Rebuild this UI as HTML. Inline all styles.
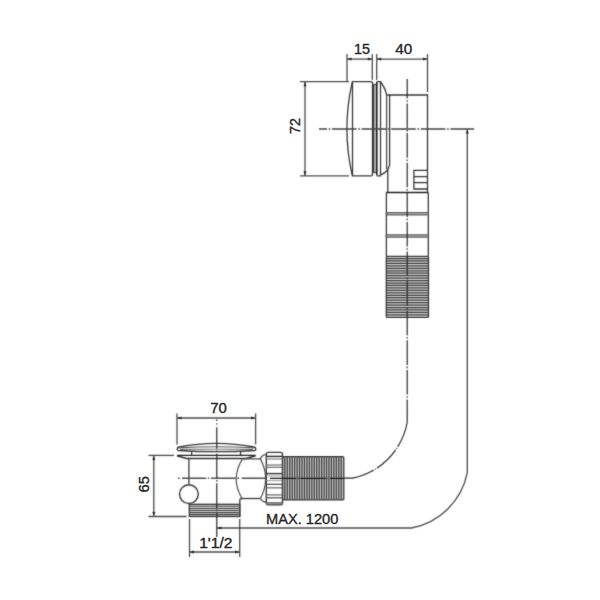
<!DOCTYPE html>
<html lang="en">
<head>
<meta charset="utf-8">
<title>Technical drawing</title>
<style>
html,body{margin:0;padding:0;background:#fff;}
body{width:600px;height:600px;overflow:hidden;}
svg{display:block;font-family:"Liberation Sans",sans-serif;}
</style>
</head>
<body>
<svg width="600" height="600" viewBox="0 0 600 600">
<rect width="600" height="600" fill="#fff"/>
<defs><filter id="bl" x="0" y="0" width="600" height="600" filterUnits="userSpaceOnUse" color-interpolation-filters="sRGB"><feConvolveMatrix order="3" kernelMatrix="0.0169 0.0962 0.0169 0.0962 0.5476 0.0962 0.0169 0.0962 0.0169" divisor="1" edgeMode="none" preserveAlpha="false"/></filter></defs>
<g filter="url(#bl)">
<line x1="347" y1="54" x2="347" y2="82" stroke="#4c4c4c" stroke-width="1.3" />
<line x1="372.3" y1="54" x2="372.3" y2="80" stroke="#4c4c4c" stroke-width="1.3" />
<line x1="376.7" y1="54" x2="376.7" y2="80" stroke="#4c4c4c" stroke-width="1.3" />
<line x1="427.5" y1="54" x2="427.5" y2="92" stroke="#4c4c4c" stroke-width="1.3" />
<line x1="347" y1="59.1" x2="372.3" y2="59.1" stroke="#4c4c4c" stroke-width="1.3" />
<line x1="376.7" y1="59.1" x2="427.5" y2="59.1" stroke="#4c4c4c" stroke-width="1.3" />
<polygon points="347.3,59.1 351.5,57.6 351.5,60.6" fill="#222"/>
<polygon points="372.0,59.1 367.8,57.6 367.8,60.6" fill="#222"/>
<polygon points="377.0,59.1 381.2,57.6 381.2,60.6" fill="#222"/>
<polygon points="427.2,59.1 423.0,57.6 423.0,60.6" fill="#222"/>
<line x1="300" y1="81.6" x2="349" y2="81.6" stroke="#4c4c4c" stroke-width="1.3" />
<line x1="300" y1="175.9" x2="349" y2="175.9" stroke="#4c4c4c" stroke-width="1.3" />
<line x1="305" y1="81.6" x2="305" y2="175.9" stroke="#4c4c4c" stroke-width="1.3" />
<polygon points="305.0,82.0 303.5,86.2 306.5,86.2" fill="#222"/>
<polygon points="305.0,175.4 303.5,171.2 306.5,171.2" fill="#222"/>
<path d="M352.5,81.6 H371 Q372.5,81.6 372.5,83.2 V174 Q372.5,175.9 371,175.9 H352.5 Z" stroke="#3a3a3a" stroke-width="1.3" fill="none" />
<path d="M352.3,81.8 Q341.5,128.7 352.3,175.5" stroke="#3a3a3a" stroke-width="1.3" fill="none" />
<rect x="373" y="84.5" width="3.6" height="88" fill="#b0b0b0"/>
<path d="M373.4,84.5 V172.5" stroke="#3a3a3a" stroke-width="1.3" fill="none" />
<path d="M372.6,84.5 H376.5" stroke="#4c4c4c" stroke-width="1.3" fill="none" />
<path d="M372.6,172.5 H376.5" stroke="#4c4c4c" stroke-width="1.3" fill="none" />
<path d="M376.8,82 V175.3" stroke="#222" stroke-width="1.6" fill="none" />
<path d="M376.6,81.6 H380.5 V175.9 H376.6" stroke="#3a3a3a" stroke-width="1.3" fill="none" />
<path d="M380.5,82 Q385.1,87.5 386.6,94.8" stroke="#3a3a3a" stroke-width="1.3" fill="none" />
<path d="M380.5,174.8 Q387.5,172.5 389.6,165.2" stroke="#3a3a3a" stroke-width="1.3" fill="none" />
<line x1="386.6" y1="94.6" x2="386.6" y2="169" stroke="#4c4c4c" stroke-width="1.3" />
<line x1="389.6" y1="94.6" x2="389.6" y2="165.5" stroke="#3a3a3a" stroke-width="1.3" />
<path d="M386.6,95 H427.5 V192.5" stroke="#3a3a3a" stroke-width="1.3" fill="none" />
<path d="M387.8,169.5 V192.5" stroke="#3a3a3a" stroke-width="1.3" fill="none" />
<path d="M427.5,170.4 H413.9 V189 H427.5" stroke="#3a3a3a" stroke-width="1.3" fill="none" />
<line x1="413.9" y1="176.6" x2="427.5" y2="176.6" stroke="#3a3a3a" stroke-width="1.3" />
<line x1="413.9" y1="182.6" x2="427.5" y2="182.6" stroke="#3a3a3a" stroke-width="1.3" />
<path d="M386.2,192.5 H428.4" stroke="#222" stroke-width="1.3" fill="none" />
<line x1="386.4" y1="192.5" x2="386.4" y2="256.5" stroke="#3a3a3a" stroke-width="1.3" />
<line x1="428.3" y1="192.5" x2="428.3" y2="256.5" stroke="#3a3a3a" stroke-width="1.3" />
<rect x="386" y="212.65" width="42.7" height="2.3" rx="1.1" fill="#b4b4b4" stroke="#3a3a3a" stroke-width="0.9"/>
<rect x="386" y="234.85" width="42.7" height="2.3" rx="1.1" fill="#b4b4b4" stroke="#3a3a3a" stroke-width="0.9"/>
<rect x="386.3" y="256.4" width="42.2" height="61" rx="1" fill="#cecece"/>
<path d="M386.3,258.50H428.5M386.3,260.95H428.5M386.3,263.40H428.5M386.3,265.85H428.5M386.3,268.30H428.5M386.3,270.75H428.5M386.3,273.20H428.5M386.3,275.65H428.5M386.3,278.10H428.5M386.3,280.55H428.5M386.3,283.00H428.5M386.3,285.45H428.5M386.3,287.90H428.5M386.3,290.35H428.5M386.3,292.80H428.5M386.3,295.25H428.5M386.3,297.70H428.5M386.3,300.15H428.5M386.3,302.60H428.5M386.3,305.05H428.5M386.3,307.50H428.5M386.3,309.95H428.5M386.3,312.40H428.5M386.3,314.85H428.5" stroke="#404040" stroke-width="1.25" fill="none" />
<rect x="386.3" y="256.4" width="42.2" height="61" rx="1" fill="none" stroke="#3a3a3a" stroke-width="1.3"/>
<line x1="319" y1="129" x2="474" y2="129" stroke="#444" stroke-width="1.5" stroke-dasharray="8 1.7 1.6 1.7 24.6 1.7 1.6 1.7 24.6 1.7 1.6 1.7 24.6 1.7 1.6 1.7 24.6 1.7 1.6 1.7 30"/>
<path d="M407.2,79 V422.5" stroke="#2a2a2a" stroke-width="1.2" fill="none" stroke-dasharray="19.5 1.7 1.6 1.7 24.6 1.7 1.6 1.7 24.6 1.7 1.6 1.7 24.6 1.7 1.6 1.7 24.6 1.7 1.6 1.7 24.6 1.7 1.6 1.7 24.6 1.7 1.6 1.7 24.6 1.7 1.6 1.7 24.6 1.7 1.6 1.7 24.6 1.7 1.6 1.7 24.6 1.7 1.6 1.7 40"/>
<path d="M407.2,422.5 A70,70 0 0 1 352.7,478.2 H343.8" stroke="#2a2a2a" stroke-width="1.2" fill="none" stroke-dasharray="26.3 1.3 1 1.3 26.3 1.3 1 1.3 60"/>
<path d="M467.3,129 V472.7 A70,70 0 0 1 411.3,528 H217.2" stroke="#4c4c4c" stroke-width="1.3" fill="none" />
<polygon points="467.3,129.4 465.8,133.6 468.8,133.6" fill="#222"/>
<polygon points="217.2,528.0 221.4,526.5 221.4,529.5" fill="#222"/>
<line x1="177" y1="413.5" x2="177" y2="444.5" stroke="#4c4c4c" stroke-width="1.3" />
<line x1="255.6" y1="413.5" x2="255.6" y2="444.5" stroke="#4c4c4c" stroke-width="1.3" />
<line x1="177" y1="418" x2="255.6" y2="418" stroke="#4c4c4c" stroke-width="1.3" />
<polygon points="177.3,418.0 181.5,416.5 181.5,419.5" fill="#222"/>
<polygon points="255.3,418.0 251.1,416.5 251.1,419.5" fill="#222"/>
<line x1="148.5" y1="455.4" x2="174" y2="455.4" stroke="#4c4c4c" stroke-width="1.3" />
<line x1="148.5" y1="516.5" x2="186.6" y2="516.5" stroke="#4c4c4c" stroke-width="1.3" />
<line x1="153.8" y1="455.4" x2="153.8" y2="516.5" stroke="#4c4c4c" stroke-width="1.3" />
<polygon points="153.8,455.8 152.3,460.0 155.3,460.0" fill="#222"/>
<polygon points="153.8,516.1 152.3,511.9 155.3,511.9" fill="#222"/>
<line x1="189.5" y1="519" x2="189.5" y2="557" stroke="#4c4c4c" stroke-width="1.3" />
<line x1="239.7" y1="519" x2="239.7" y2="557" stroke="#4c4c4c" stroke-width="1.3" />
<line x1="189.5" y1="552" x2="239.7" y2="552" stroke="#4c4c4c" stroke-width="1.3" />
<polygon points="189.8,552.0 194.0,550.5 194.0,553.5" fill="#222"/>
<polygon points="239.4,552.0 235.2,550.5 235.2,553.5" fill="#222"/>
<path d="M177.1,448.9 Q177.1,447.3 179,447 Q198,443.3 216.5,443.3 Q235,443.3 254,447 Q255.9,447.3 255.9,448.9 Q255.9,450.3 254.4,450.5 Q236,451.7 216.5,451.7 Q197,451.7 178.6,450.5 Q177.1,450.3 177.1,448.9 Z" stroke="#3a3a3a" stroke-width="1.3" fill="none" />
<path d="M178.5,447.9 Q198,446.7 216.5,446.7 Q235,446.7 254.5,447.9" stroke="#5a5a5a" stroke-width="1.1" fill="none" />
<path d="M180,449.4 Q198,449.2 216.5,449.2 Q235,449.2 253,449.4" stroke="#7a7a7a" stroke-width="1.1" fill="none" />
<path d="M191.6,451.6 V455.3 M240.6,451.6 V455.3" stroke="#3a3a3a" stroke-width="1.3" fill="none" />
<path d="M177,455.4 H255.6" stroke="#222" stroke-width="1.4" fill="none" />
<path d="M177,455.8 L186.2,458.4 H246 L255.6,455.8" stroke="#333" stroke-width="1.5" fill="none" />
<line x1="188.9" y1="458.3" x2="188.9" y2="484.8" stroke="#3a3a3a" stroke-width="1.3" />
<circle cx="188.9" cy="494.1" r="9.4" fill="#fff" stroke="#3a3a3a" stroke-width="1.4"/>
<path d="M242.5,458.9 H260.3" stroke="#4c4c4c" stroke-width="1.3" fill="none" />
<path d="M242.5,458.9 Q230.2,478.5 242,498.5" stroke="#505050" stroke-width="1.2" fill="none" />
<path d="M260.3,458.9 Q270.9,478.5 260.5,498.5" stroke="#505050" stroke-width="1.2" fill="none" />
<path d="M242,498.5 H260.5" stroke="#3a3a3a" stroke-width="1.3" fill="none" />
<path d="M260.3,458.9 Q262,454.6 266.3,454.3" stroke="#4c4c4c" stroke-width="1.3" fill="none" />
<path d="M260.5,498.5 Q262.5,502 266.3,502.2" stroke="#4c4c4c" stroke-width="1.3" fill="none" />
<path d="M239.8,516.5 V500.5 Q239.8,498.6 242,498.5" stroke="#3a3a3a" stroke-width="1.3" fill="none" />
<rect x="189.3" y="504.3" width="50.5" height="12.2" fill="#cfcfcf" stroke="#3a3a3a" stroke-width="1.3"/>
<line x1="189.3" y1="506.3" x2="239.8" y2="506.3" stroke="#484848" stroke-width="1.05" />
<line x1="189.3" y1="508.4" x2="239.8" y2="508.4" stroke="#484848" stroke-width="1.05" />
<line x1="189.3" y1="510.5" x2="239.8" y2="510.5" stroke="#484848" stroke-width="1.05" />
<line x1="189.3" y1="512.6" x2="239.8" y2="512.6" stroke="#484848" stroke-width="1.05" />
<line x1="189.3" y1="514.6" x2="239.8" y2="514.6" stroke="#484848" stroke-width="1.05" />
<rect x="266.3" y="452.4" width="16.2" height="52.4" rx="1.8" fill="#fff" stroke="#3a3a3a" stroke-width="1.4"/>
<line x1="266.3" y1="456.4" x2="282.6" y2="456.4" stroke="#2a2a2a" stroke-width="1.4" />
<line x1="266.3" y1="459" x2="282.6" y2="459" stroke="#808080" stroke-width="1.2" />
<line x1="266.3" y1="465" x2="282.6" y2="465" stroke="#7a7a7a" stroke-width="1.3" />
<line x1="266.3" y1="467.3" x2="282.6" y2="467.3" stroke="#7a7a7a" stroke-width="1.3" />
<line x1="266.3" y1="473.6" x2="282.6" y2="473.6" stroke="#333" stroke-width="1.4" />
<line x1="266.3" y1="476" x2="282.6" y2="476" stroke="#999" stroke-width="1" />
<line x1="266.3" y1="480.6" x2="282.6" y2="480.6" stroke="#999" stroke-width="1" />
<line x1="266.3" y1="484.3" x2="282.6" y2="484.3" stroke="#555" stroke-width="1.3" />
<line x1="266.3" y1="487.8" x2="282.6" y2="487.8" stroke="#777" stroke-width="1.4" />
<line x1="266.3" y1="494.9" x2="282.6" y2="494.9" stroke="#777" stroke-width="1.4" />
<line x1="266.3" y1="497.8" x2="282.6" y2="497.8" stroke="#555" stroke-width="1.3" />
<line x1="266.3" y1="503" x2="282.6" y2="503" stroke="#444" stroke-width="1.4" />
<line x1="266.3" y1="503.9" x2="282.6" y2="503.9" stroke="#999" stroke-width="1" />
<rect x="282.6" y="456.7" width="61.2" height="43.1" rx="1" fill="#cacaca"/>
<path d="M284.85,456.7V499.8M287.30,456.7V499.8M289.75,456.7V499.8M292.20,456.7V499.8M294.65,456.7V499.8M297.10,456.7V499.8M299.55,456.7V499.8M302.00,456.7V499.8M304.45,456.7V499.8M306.90,456.7V499.8M309.35,456.7V499.8M311.80,456.7V499.8M314.25,456.7V499.8M316.70,456.7V499.8M319.15,456.7V499.8M321.60,456.7V499.8M324.05,456.7V499.8M326.50,456.7V499.8M328.95,456.7V499.8M331.40,456.7V499.8M333.85,456.7V499.8M336.30,456.7V499.8M338.75,456.7V499.8M341.20,456.7V499.8" stroke="#404040" stroke-width="1.3" fill="none" />
<rect x="282.6" y="456.7" width="61.2" height="43.1" rx="1" fill="none" stroke="#3a3a3a" stroke-width="1.3"/>
<line x1="178" y1="478.2" x2="266" y2="478.2" stroke="#505050" stroke-width="1.4" stroke-dasharray="1.6 2.4 24 1.7 1.6 1.7 24.8 1.7 1.6 2.7 30"/>
<line x1="270" y1="478.4" x2="343.8" y2="478.4" stroke="#1c1c1c" stroke-width="1.25" stroke-dasharray="26.2 1.6 1 1.6 25.4 1.6 1 1.6 30"/>
<line x1="216.8" y1="419.5" x2="216.8" y2="537" stroke="#2a2a2a" stroke-width="1.2" stroke-dasharray="1.4 2.3 1.4 2.6 21.5 1.7 1.6 1.7 24.6 1.7 1.6 1.7 24.6 1.7 1.6 1.7 40"/>
</g>
<g>
<text x="362" y="53.8" font-size="14" text-anchor="middle" fill="#262626" stroke="#262626" stroke-width="0.35" stroke-linejoin="round" textLength="16" lengthAdjust="spacingAndGlyphs">15</text>
<text x="403.8" y="53.8" font-size="14" text-anchor="middle" fill="#262626" stroke="#262626" stroke-width="0.35" stroke-linejoin="round" textLength="17" lengthAdjust="spacingAndGlyphs">40</text>
<text x="218.5" y="413.4" font-size="14" text-anchor="middle" fill="#262626" stroke="#262626" stroke-width="0.35" stroke-linejoin="round" textLength="16.6" lengthAdjust="spacingAndGlyphs">70</text>
<text x="302.2" y="524.3" font-size="14" text-anchor="middle" fill="#262626" stroke="#262626" stroke-width="0.35" stroke-linejoin="round" textLength="72.3" lengthAdjust="spacingAndGlyphs">MAX. 1200</text>
<text x="215.8" y="547.5" font-size="14" text-anchor="middle" fill="#262626" stroke="#262626" stroke-width="0.35" stroke-linejoin="round" textLength="33.3" lengthAdjust="spacingAndGlyphs">1'1/2</text>
<text x="149.3" y="484.2" font-size="15" text-anchor="middle" fill="#262626" stroke="#262626" stroke-width="0.35" stroke-linejoin="round" transform="rotate(-90 149.3 484.2)" textLength="16.4" lengthAdjust="spacingAndGlyphs">65</text>
<text x="300.3" y="126.1" font-size="15" text-anchor="middle" fill="#262626" stroke="#262626" stroke-width="0.35" stroke-linejoin="round" transform="rotate(-90 300.3 126.1)" textLength="16" lengthAdjust="spacingAndGlyphs">72</text>
</g>
</svg>
</body>
</html>
